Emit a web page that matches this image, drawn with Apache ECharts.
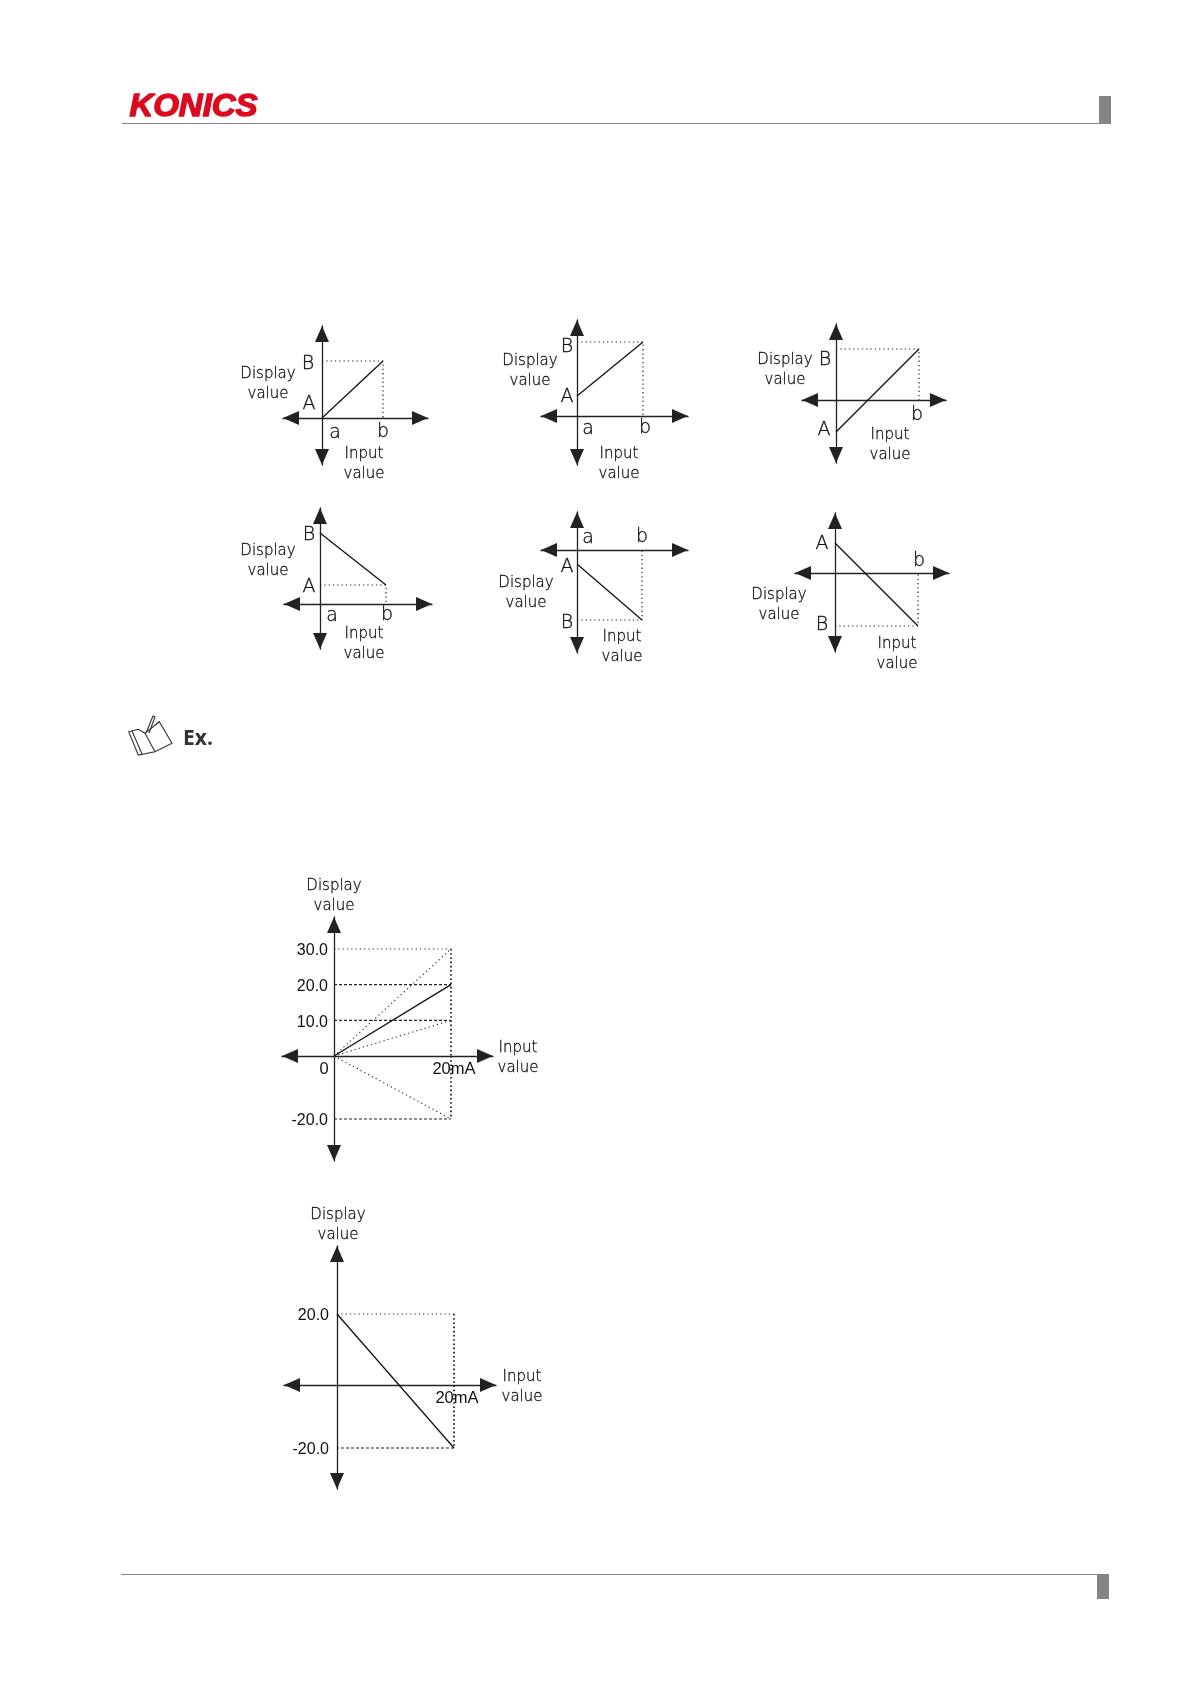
<!DOCTYPE html>
<html>
<head>
<meta charset="utf-8">
<title>KONICS</title>
<script src="https://cdn.jsdelivr.net/npm/echarts@6/dist/echarts.min.js"></script>
<style>
html, body { margin: 0; padding: 0; background: #fff; }
#chart { width: 1191px; height: 1684px; }
</style>
</head>
<body>
<div id="chart"></div>
<script>
// small scaling panels: no scale in the picture, values read in drawing units
var inputEnd = [61, 66, 83, 66, 65, 83];
var displayStart = [0, 20, -32, 71, -14, 30];
var displayEnd = [57, 74, 51, 19, -70, -53];

// example 1
var ex1Input = [0, 20];
var ex1Upper = [30, 20, 10];
var ex1Lower = [-20];
var ex1Main = 20;

// example 2
var ex2Input = [20];
var ex2Display = [20, -20];

var ACCENT = '#222';
var LABEL_FONT = '"DejaVu Sans"';
var NUM_FONT = '"Liberation Sans"';

// arrow tips and crossing point of the axes, per panel
var panelBoxes = [
	{ left: 283, right: 428, top: 326, bottom: 465, x0: 322, y0: 418 },
	{ left: 541, right: 688, top: 320, bottom: 465, x0: 577, y0: 416 },
	{ left: 802, right: 946, top: 324, bottom: 463, x0: 836, y0: 400 },
	{ left: 284, right: 432, top: 508, bottom: 649, x0: 320, y0: 604 },
	{ left: 541, right: 688, top: 512, bottom: 653, x0: 577, y0: 550 },
	{ left: 795, right: 949, top: 513, bottom: 652, x0: 835, y0: 573 }
];

// text, x, y
var letterLabels = [
	['B', 308, 364], ['A', 309, 404], ['a', 335, 433], ['b', 383, 432],
	['B', 567, 347], ['A', 567, 397], ['a', 588, 429], ['b', 645, 428],
	['B', 825, 360], ['A', 824, 430], ['b', 917, 415],
	['B', 309, 535], ['A', 309, 587], ['a', 332, 616], ['b', 387, 615],
	['a', 588, 538], ['b', 642, 537], ['A', 567, 567], ['B', 567, 623],
	['A', 822, 544], ['B', 822, 625], ['b', 919, 561]
];
var displayLabels = [[268, 384], [530, 371], [785, 370], [268, 561], [526, 593], [779, 605], [334, 896], [338, 1225]];
var inputLabels = [[364, 464], [619, 464], [890, 445], [364, 644], [622, 647], [897, 654], [518, 1058], [522, 1387]];

function arrowAxisLine(onZero) {
	return {
		show : true,
		onZero : onZero,
		symbol : [ 'triangle', 'triangle' ],
		symbolSize : [ 14, 16 ],
		symbolOffset : [ 8, -8 ],
		lineStyle : { color : ACCENT, width : 1.3 }
	};
}

var LINE_KINDS = {
	solid : { color : '#111', width : 1.3, type : 'solid' },
	guide : { color : '#222', width : 1.2, type : [ 1.3, 3 ] },
	dot : { color : '#333', width : 1.1, type : [ 1.3, 3 ] },
	dash : { color : '#222', width : 1.1, type : [ 3, 2 ] },
	heavy : { color : '#222', width : 1.8, type : [ 1.6, 2.6 ] }
};

function lineSeries(xIdx, yIdx, points, kind) {
	return {
		type : 'line',
		xAxisIndex : xIdx,
		yAxisIndex : yIdx,
		data : points,
		symbol : 'none',
		silent : true,
		animation : false,
		lineStyle : LINE_KINDS[kind]
	};
}

var grids = [], xAxes = [], yAxes = [], seriesList = [];

// the six A/B panels
for (var i = 0; i < panelBoxes.length; i++) {
	var box = panelBoxes[i];
	grids.push({ left : box.left, top : box.top, width : box.right - box.left, height : box.bottom - box.top });
	xAxes.push({
		type : 'value', gridIndex : i, min : box.left - box.x0, max : box.right - box.x0,
		axisLine : arrowAxisLine(true), axisTick : { show : false }, axisLabel : { show : false }, splitLine : { show : false }
	});
	yAxes.push({
		type : 'value', gridIndex : i, min : box.y0 - box.bottom, max : box.y0 - box.top,
		axisLine : arrowAxisLine(true), axisTick : { show : false }, axisLabel : { show : false }, splitLine : { show : false }
	});
	seriesList.push(lineSeries(i, i, [ [ 0, displayEnd[i] ], [ inputEnd[i], displayEnd[i] ], [ inputEnd[i], 0 ] ], 'guide'));
	seriesList.push(lineSeries(i, i, [ [ 0, displayStart[i] ], [ inputEnd[i], displayEnd[i] ] ], 'solid'));
}

// tick labels do not follow an on-zero axis here, so the example axes are moved by offset
function inputAxis(gridIdx, ticks, min, max, offset) {
	return {
		type : 'value', gridIndex : gridIdx, min : min, max : max, position : 'bottom', offset : offset,
		axisLine : arrowAxisLine(false), axisTick : { show : false }, splitLine : { show : false },
		axisLabel : {
			customValues : ticks,
			margin : 5,
			hideOverlap : false,
			formatter : function(v) {
				return v === 0 ? '{zero|0}' : '{ma|' + v + 'mA}';
			},
			rich : {
				zero : { padding : [ 0, 20, 0, 0 ], fontFamily : NUM_FONT, fontSize : 16.5, color : '#111' },
				ma : { padding : [ 0, 0, 0, 6 ], fontFamily : NUM_FONT, fontSize : 16.5, color : '#111' }
			}
		}
	};
}

function displayAxis(gridIdx, ticks, min, max, offset, lineShown, margin) {
	var line = arrowAxisLine(false);
	line.show = lineShown;
	return {
		type : 'value', gridIndex : gridIdx, min : min, max : max, position : 'left', offset : offset,
		axisLine : line, axisTick : { show : false }, splitLine : { show : false },
		axisLabel : {
			customValues : ticks,
			margin : margin,
			hideOverlap : false,
			formatter : function(v) { return '{n|' + v.toFixed(1) + '}'; },
			rich : {
				n : { padding : [ 4, 0, 0, 0 ], fontFamily : NUM_FONT, fontSize : 16, color : '#111' }
			}
		}
	};
}

// example 1: the reference draws the part below zero to a smaller scale,
// so the negative branch sits on its own hidden y axis
var e1 = 6, e1End = ex1Input[1];
grids.push({ left : 282, top : 917, width : 211, height : 244 });
xAxes.push(inputAxis(e1, ex1Input, -8.89, 27.18, -105));
yAxes.push(displayAxis(e1, ex1Upper, -29.44, 38.97, -52, true, 6));
yAxes.push(displayAxis(e1, ex1Lower, -33.33, 44.13, -52, false, 6));
var e1Low = yAxes.length - 1, e1Up = e1;
for (var u = 0; u < ex1Upper.length; u++) {
	seriesList.push(lineSeries(e1, e1Up, [ [ 0, ex1Upper[u] ], [ e1End, ex1Upper[u] ] ], u === 0 ? 'dot' : 'dash'));
	if (ex1Upper[u] !== ex1Main) {
		seriesList.push(lineSeries(e1, e1Up, [ [ 0, 0 ], [ e1End, ex1Upper[u] ] ], 'dot'));
	}
}
seriesList.push(lineSeries(e1, e1Up, [ [ e1End, ex1Upper[0] ], [ e1End, 0 ] ], 'heavy'));
seriesList.push(lineSeries(e1, e1Up, [ [ 0, 0 ], [ e1End, ex1Main ] ], 'solid'));
seriesList.push(lineSeries(e1, e1Low, [ [ 0, ex1Lower[0] ], [ e1End, ex1Lower[0] ] ], 'dash'));
seriesList.push(lineSeries(e1, e1Low, [ [ e1End, 0 ], [ e1End, ex1Lower[0] ] ], 'heavy'));
seriesList.push(lineSeries(e1, e1Low, [ [ 0, 0 ], [ e1End, ex1Lower[0] ] ], 'dot'));

// example 2: input axis sits a little below value zero in the reference
var e2 = 7, e2End = ex2Input[0], e2Y = yAxes.length;
grids.push({ left : 284, top : 1246, width : 212, height : 243 });
xAxes.push(inputAxis(e2, ex2Input, -9.06, 27.18, -104));
yAxes.push(displayAxis(e2, ex2Display, -32.24, 40.3, -53, true, 8));
seriesList.push(lineSeries(e2, e2Y, [ [ 0, ex2Display[0] ], [ e2End, ex2Display[0] ] ], 'dot'));
seriesList.push(lineSeries(e2, e2Y, [ [ e2End, ex2Display[0] ], [ e2End, ex2Display[1] ] ], 'heavy'));
seriesList.push(lineSeries(e2, e2Y, [ [ e2End, ex2Display[1] ], [ 0, ex2Display[1] ] ], 'dash'));
seriesList.push(lineSeries(e2, e2Y, [ [ 0, ex2Display[0] ], [ e2End, ex2Display[1] ] ], 'solid'));

function textEl(text, x, y, font, fill, lineHeight, stroke) {
	return {
		type : 'text', x : x, y : y, silent : true,
		style : {
			text : text, font : font, fill : fill, align : 'center', verticalAlign : 'middle', lineHeight : lineHeight,
			stroke : stroke ? fill : null, lineWidth : stroke || 0
		}
	};
}
function rectEl(x, y, w, h, fill) {
	return { type : 'rect', silent : true, shape : { x : x, y : y, width : w, height : h }, style : { fill : fill } };
}
function polyEl(points, closed) {
	return {
		type : closed ? 'polygon' : 'polyline', silent : true, shape : { points : points },
		style : { fill : closed ? '#fff' : 'none', stroke : '#333', lineWidth : 1.1 }
	};
}

var graphics = [
	// header and footer rules
	rectEl(122, 123, 977, 1, '#858585'),
	rectEl(1099, 96, 12, 28, '#858585'),
	rectEl(121, 1574, 976, 1, '#858585'),
	rectEl(1097, 1574, 12, 25, '#858585'),
	{
		type : 'text', x : 193.5, y : 107, scaleX : 1.03, silent : true,
		style : {
			text : 'KONICS', font : 'italic bold 32px "Liberation Sans"', fill : '#dc0a1e',
			stroke : '#dc0a1e', lineWidth : 1.4, align : 'center', verticalAlign : 'middle'
		}
	},
	// book icon
	polyEl([ [ 128.7, 731.7 ], [ 138.3, 729.3 ], [ 145, 733.3 ], [ 159.3, 721.7 ], [ 172, 743.3 ], [ 155, 751.7 ], [ 138.3, 755 ] ], true),
	polyEl([ [ 132, 731 ], [ 142, 754 ] ], false),
	polyEl([ [ 145, 733.3 ], [ 155, 751.7 ] ], false),
	polyEl([ [ 146, 733 ], [ 153, 716 ], [ 155, 717 ], [ 149, 733 ] ], false),
	textEl('Ex.', 198, 739, 'bold 21px "Open Sans"', '#333')
];
letterLabels.forEach(function(l) {
	graphics.push(textEl(l[0], l[1], l[2], '200 19px ' + LABEL_FONT, '#111', null, 0.3));
});
displayLabels.forEach(function(l) {
	graphics.push(textEl('Display\nvalue', l[0], l[1], '200 15px ' + LABEL_FONT, '#111', 19.5, 0.3));
});
inputLabels.forEach(function(l) {
	graphics.push(textEl('Input\nvalue', l[0], l[1], '200 15px ' + LABEL_FONT, '#111', 19.5, 0.3));
});

var konicsChart = echarts.init(document.getElementById('chart'));
konicsChart.setOption({
	animation : false,
	backgroundColor : '#fff',
	grid : grids,
	xAxis : xAxes,
	yAxis : yAxes,
	series : seriesList,
	graphic : { elements : graphics }
});
</script>
</body>
</html>
